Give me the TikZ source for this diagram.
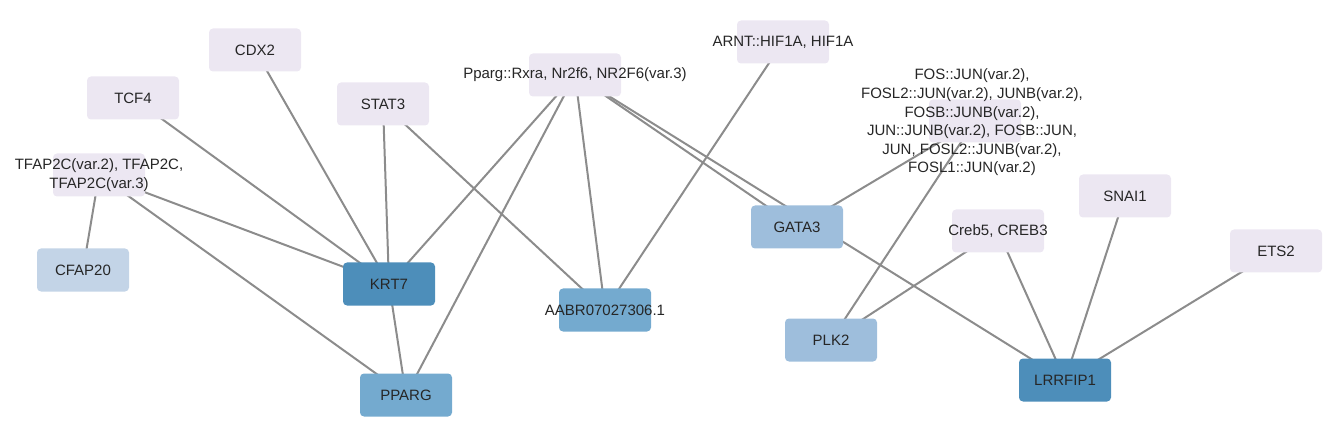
\documentclass[tikz,border=0pt]{standalone}
\usepackage{fontspec}
\setmainfont{Liberation Sans}
\usepackage{tikz}
\usetikzlibrary{positioning}
\pgfdeclarelayer{background}
\pgfsetlayers{background,main}
\definecolor{tfcol}{HTML}{ECE7F2}
\definecolor{lowcol}{HTML}{C3D4E7}
\definecolor{midcol}{HTML}{9EBEDC}
\definecolor{highcol}{HTML}{74AACF}
\definecolor{topcol}{HTML}{4D8EBA}
\definecolor{edgecol}{HTML}{8C8C8C}
\tikzset{
  box/.style={rectangle,rounded corners=4pt,minimum width=92pt,minimum height=43pt,inner sep=0pt},
  tf/.style={box,fill=tfcol},
  lbl/.style={align=center,text=black!85,font=\fontsize{15pt}{18.6pt}\selectfont,inner sep=0pt},
  link/.style={draw=edgecol,line width=2pt}
}

\begin{document}
\begin{tikzpicture}[x=1pt,y=-1pt]
\useasboundingbox (0,0) rectangle (1338,438);
\node[tf,label={[lbl]center:CDX2}] (cdx) at (255,50) {};
\node[tf,label={[lbl]center:TCF4}] (tcf) at (133,98) {};
\node[tf,label={[lbl]center:STAT3}] (stat) at (383,104) {};
\node[tf,label={[lbl]center:TFAP2C(var.2), TFAP2C,\\TFAP2C(var.3)}] (tfap) at (99,175) {};
\node[tf,label={[lbl]center:Pparg::Rxra, Nr2f6, NR2F6(var.3)}] (ppar) at (575,75) {};
\node[tf,label={[lbl]center:ARNT::HIF1A, HIF1A}] (arnt) at (783,42) {};
\node[tf,label={[lbl,xshift=-3pt,yshift=-1.5pt]center:FOS::JUN(var.2),\\FOSL2::JUN(var.2), JUNB(var.2),\\FOSB::JUNB(var.2),\\JUN::JUNB(var.2), FOSB::JUN,\\JUN, FOSL2::JUNB(var.2),\\FOSL1::JUN(var.2)}] (fos) at (975,121) {};
\node[tf,label={[lbl]center:SNAI1}] (snai) at (1125,196) {};
\node[tf,label={[lbl]center:Creb5, CREB3}] (creb) at (998,231) {};
\node[tf,label={[lbl]center:ETS2}] (ets) at (1276,251) {};
\node[box,fill=lowcol,label={[lbl]center:CFAP20}] (cfap) at (83,270) {};
\node[box,fill=topcol,label={[lbl]center:KRT7}] (krt) at (389,284) {};
\node[box,fill=highcol,label={[lbl]center:PPARG}] (pparg) at (406,395) {};
\node[box,fill=highcol,label={[lbl]center:AABR07027306.1}] (aabr) at (605,310) {};
\node[box,fill=midcol,label={[lbl]center:GATA3}] (gata) at (797,227) {};
\node[box,fill=midcol,label={[lbl]center:PLK2}] (plk) at (831,340) {};
\node[box,fill=topcol,label={[lbl]center:LRRFIP1}] (lrr) at (1065,380) {};
\begin{pgfonlayer}{background}
\foreach \a/\b in {tfap/cfap,tfap/krt,tfap/pparg,tcf/krt,cdx/krt,stat/krt,stat/aabr,
  ppar/krt,ppar/pparg,ppar/aabr,ppar/gata,ppar/lrr,arnt/aabr,krt/pparg,
  fos/gata,fos/plk,creb/plk,creb/lrr,snai/lrr,ets/lrr}
  \draw[link] (\a.center) -- (\b.center);
\end{pgfonlayer}
\end{tikzpicture}
\end{document}
